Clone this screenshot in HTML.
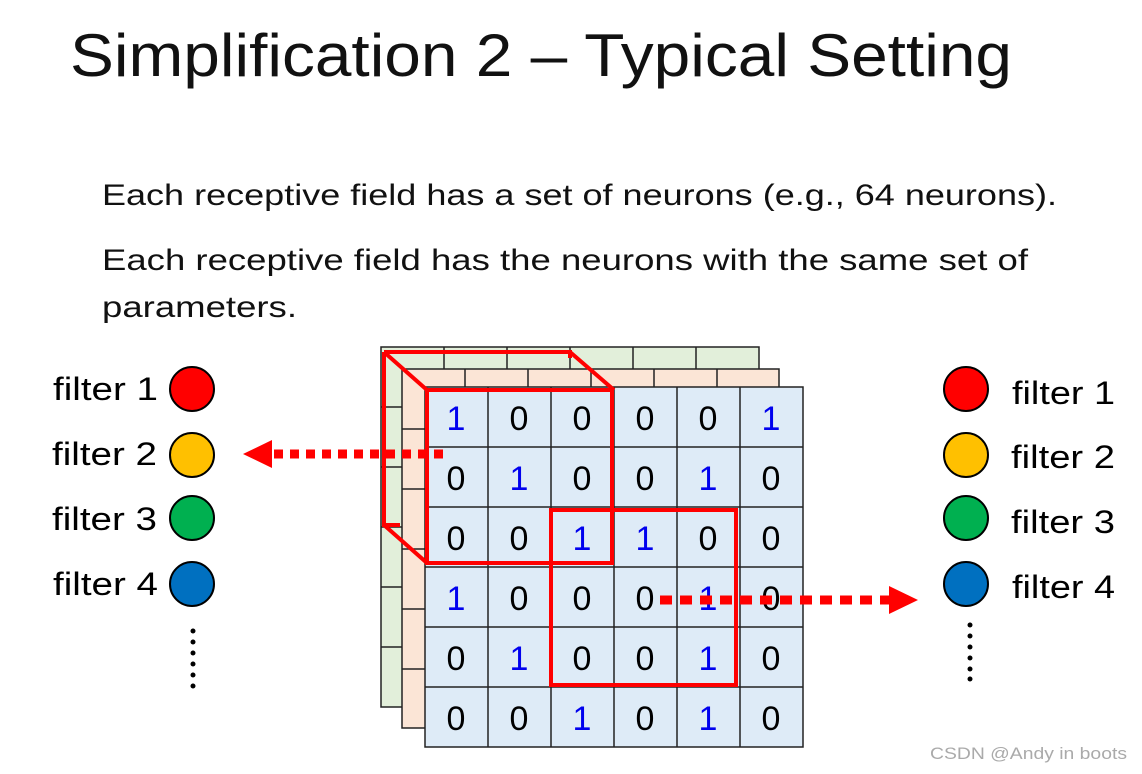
<!DOCTYPE html>
<html><head><meta charset="utf-8"><style>
html,body{margin:0;padding:0;background:#fff;}
svg{display:block;font-family:"Liberation Sans",sans-serif;}
</style></head><body>
<svg width="1142" height="774" viewBox="0 0 1142 774" xmlns="http://www.w3.org/2000/svg">
<text x="70" y="76" font-size="60" textLength="942" lengthAdjust="spacingAndGlyphs" fill="#111">Simplification 2 – Typical Setting</text>
<text x="102" y="205" font-size="30" textLength="955" lengthAdjust="spacingAndGlyphs" fill="#111">Each receptive field has a set of neurons (e.g., 64 neurons).</text>
<text x="102" y="270" font-size="30" textLength="926" lengthAdjust="spacingAndGlyphs" fill="#111">Each receptive field has the neurons with the same set of</text>
<text x="102" y="317" font-size="30" textLength="195" lengthAdjust="spacingAndGlyphs" fill="#111">parameters.</text>

<!-- back layers -->
<g stroke="#222" stroke-width="1.5">
<rect x="381" y="347" width="378" height="360" fill="#e2efda"/>
<path d="M444 347V369M507 347V369M570 347V369M633 347V369M696 347V369M381 407H402M381 467H402M381 527H402M381 587H402M381 647H402" fill="none"/>
<rect x="402" y="369" width="377" height="359" fill="#fbe5d6"/>
<path d="M465 369V387M528 369V387M591 369V387M654 369V387M717 369V387M402 429H425M402 489H425M402 549H425M402 609H425M402 669H425" fill="none"/>
</g>
<!-- front grid -->
<g stroke="#222" stroke-width="1.5" fill="none">
<rect x="425" y="387" width="378" height="360" fill="#deebf7"/>
<path d="M488 387V747M551 387V747M614 387V747M677 387V747M740 387V747M425 447H803M425 507H803M425 567H803M425 627H803M425 687H803"/>
</g>
<g font-size="34" text-anchor="middle">
<g fill="#0000ee">
<text x="456" y="430">1</text><text x="771" y="430">1</text>
<text x="519" y="490">1</text><text x="708" y="490">1</text>
<text x="582" y="550">1</text><text x="645" y="550">1</text>
<text x="456" y="610">1</text><text x="708" y="610">1</text>
<text x="519" y="670">1</text><text x="708" y="670">1</text>
<text x="582" y="730">1</text><text x="708" y="730">1</text>
</g>
<g fill="#000">
<text x="519" y="430">0</text><text x="582" y="430">0</text><text x="645" y="430">0</text><text x="708" y="430">0</text>
<text x="456" y="490">0</text><text x="582" y="490">0</text><text x="645" y="490">0</text><text x="771" y="490">0</text>
<text x="456" y="550">0</text><text x="519" y="550">0</text><text x="708" y="550">0</text><text x="771" y="550">0</text>
<text x="519" y="610">0</text><text x="582" y="610">0</text><text x="645" y="610">0</text><text x="771" y="610">0</text>
<text x="456" y="670">0</text><text x="582" y="670">0</text><text x="645" y="670">0</text><text x="771" y="670">0</text>
<text x="456" y="730">0</text><text x="519" y="730">0</text><text x="645" y="730">0</text><text x="771" y="730">0</text>
</g>
</g>
<!-- red cube -->
<g stroke="#ff0000" stroke-width="4" fill="none">
<path d="M384 352H570V358M384 352V525H400"/>
<path d="M384 352L427 390M570 352L614 390M384 525L427 563"/>
<rect x="427" y="390" width="185" height="173"/>
<rect x="551" y="510" width="185" height="175"/>
</g>
<!-- arrows -->
<line x1="274" y1="454" x2="444" y2="454" stroke="#ff0000" stroke-width="9" stroke-dasharray="9 7"/>
<polygon points="243,454 272,440 272,468" fill="#ff0000"/>
<line x1="660" y1="600" x2="890" y2="600" stroke="#ff0000" stroke-width="9" stroke-dasharray="12 8"/>
<polygon points="918,600 889,586 889,614" fill="#ff0000"/>
<!-- left filters -->
<g font-size="32" fill="#000">
<text x="53" y="400" textLength="105" lengthAdjust="spacingAndGlyphs">filter 1</text>
<text x="52" y="465" textLength="105" lengthAdjust="spacingAndGlyphs">filter 2</text>
<text x="52" y="530" textLength="105" lengthAdjust="spacingAndGlyphs">filter 3</text>
<text x="53" y="595" textLength="105" lengthAdjust="spacingAndGlyphs">filter 4</text>
<text x="1012" y="404" textLength="103" lengthAdjust="spacingAndGlyphs">filter 1</text>
<text x="1011" y="468" textLength="104" lengthAdjust="spacingAndGlyphs">filter 2</text>
<text x="1011" y="533" textLength="104" lengthAdjust="spacingAndGlyphs">filter 3</text>
<text x="1012" y="598" textLength="103" lengthAdjust="spacingAndGlyphs">filter 4</text>
</g>
<g stroke="#000" stroke-width="2">
<circle cx="192" cy="389" r="22" fill="#ff0000"/>
<circle cx="192" cy="455" r="22" fill="#ffc000"/>
<circle cx="192" cy="518" r="22" fill="#00b050"/>
<circle cx="192" cy="584" r="22" fill="#0070c0"/>
<circle cx="966" cy="389" r="22" fill="#ff0000"/>
<circle cx="966" cy="455" r="22" fill="#ffc000"/>
<circle cx="966" cy="518" r="22" fill="#00b050"/>
<circle cx="966" cy="584" r="22" fill="#0070c0"/>
</g>
<g fill="#000">
<circle cx="193" cy="631" r="2.5"/><circle cx="193" cy="642" r="2.5"/><circle cx="193" cy="653" r="2.5"/><circle cx="193" cy="664" r="2.5"/><circle cx="193" cy="675" r="2.5"/><circle cx="193" cy="686" r="2.5"/>
<circle cx="970" cy="625" r="2.5"/><circle cx="970" cy="636" r="2.5"/><circle cx="970" cy="647" r="2.5"/><circle cx="970" cy="658" r="2.5"/><circle cx="970" cy="669" r="2.5"/><circle cx="970" cy="679" r="2.5"/>
</g>
<text x="930" y="759" font-size="17" fill="#aaa" textLength="197" lengthAdjust="spacingAndGlyphs">CSDN @Andy in boots</text>
</svg>
</body></html>
